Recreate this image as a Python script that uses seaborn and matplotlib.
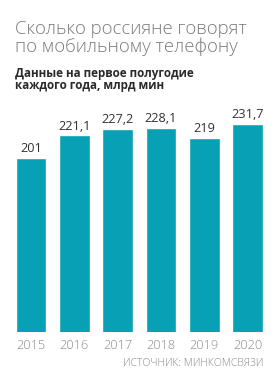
import matplotlib
matplotlib.use("Agg")
import matplotlib.pyplot as plt
import seaborn as sns
import pandas as pd

years = ["2015", "2016", "2017", "2018", "2019", "2020"]
values = [201, 221.1, 227.2, 228.1, 219, 231.7]
labels = ["201", "221,1", "227,2", "228,1", "219", "231,7"]

title_lines = ["Сколько россияне говорят", "по мобильному телефону"]
subtitle_lines = ["Данные на первое полугодие", "каждого года, млрд мин"]
source = "ИСТОЧНИК: МИНКОМСВЯЗИ"

sns.set_theme(style="white")
plt.rcParams['font.family'] = ['Open Sans', 'DejaVu Sans']

W, H = 278, 380
fig = plt.figure(figsize=(W / 100, H / 100), dpi=100)
fig.patch.set_facecolor("white")

def fy(px):
    return 1 - px / H

ax_left = 9.35 / W
ax_w = 260 / W
ax_bottom = (H - 331.7) / H
ax_h = (331.7 - 100) / H
ax = fig.add_axes([ax_left, ax_bottom, ax_w, ax_h])

df = pd.DataFrame({"year": years, "value": values})
color = "#08A0B4"
sns.barplot(data=df, x="year", y="value", color=color, width=0.71,
            saturation=1, ax=ax)
ax.set_xlim(-0.5, 5.5)
ax.set_ylim(43.9, 253.1)

for i, (v, lab) in enumerate(zip(values, labels)):
    ax.annotate(lab, (i, v), xytext=(0, 3.9), textcoords="offset points",
                ha="center", va="baseline", fontsize=9.2, color="#333333")

ax.set_xlabel("")
ax.set_ylabel("")
ax.set_yticks([])
ax.tick_params(axis="x", length=0, pad=5.5, labelsize=9.2, labelcolor="#8a8a8a")
for t in ax.get_xticklabels():
    t.set_fontweight("light")
for s in ax.spines.values():
    s.set_visible(False)
ax.set_facecolor("white")

fig.text(15 / W, fy(34.5), title_lines[0], fontsize=13.3, color="#7a7a7a",
         fontweight="light", ha="left", va="baseline")
fig.text(15 / W, fy(51.5), title_lines[1], fontsize=13.3, color="#7a7a7a",
         fontweight="light", ha="left", va="baseline")
fig.text(15 / W, fy(76.5), subtitle_lines[0], fontsize=8.4, color="#2a2a2a",
         fontweight="bold", ha="left", va="baseline")
fig.text(15 / W, fy(88.5), subtitle_lines[1], fontsize=8.4, color="#2a2a2a",
         fontweight="bold", ha="left", va="baseline")
fig.text(263 / W, fy(366), source, fontsize=7.6, color="#8a8a8a",
         fontweight="light", ha="right", va="baseline")

fig.savefig("out.png", dpi=100, facecolor="white")
